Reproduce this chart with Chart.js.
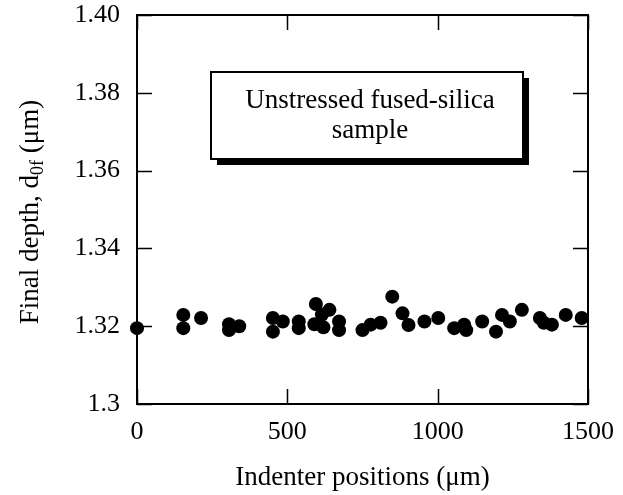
<!DOCTYPE html>
<html><head><meta charset="utf-8">
<script src="https://cdn.jsdelivr.net/npm/chart.js@4.4.0/dist/chart.umd.min.js"></script>
<style>html,body{margin:0;padding:0;background:#fff}canvas{display:block}</style>
</head><body>
<canvas id="c" width="623" height="495"></canvas>
<script>
const positions = [0, 154, 154, 213, 306, 306, 340, 452, 452, 485, 538, 538, 590, 595, 615, 620, 640, 672, 672, 750, 777, 810, 849, 883, 903, 956, 1002, 1055, 1088, 1095, 1148, 1194, 1214, 1240, 1280, 1340, 1353, 1380, 1426, 1479];
const depths = [1.3195, 1.3229, 1.3195, 1.3221, 1.3205, 1.3190, 1.3200, 1.3221, 1.3186, 1.3212, 1.3212, 1.3195, 1.3205, 1.3257, 1.3230, 1.3197, 1.3242, 1.3212, 1.3190, 1.3190, 1.3204, 1.3209, 1.3276, 1.3233, 1.3203, 1.3212, 1.3221, 1.3195, 1.3204, 1.3190, 1.3212, 1.3186, 1.3229, 1.3212, 1.3242, 1.3221, 1.3209, 1.3204, 1.3229, 1.3221];
const xTickValues = [0, 500, 1000, 1500];
const xTickLabels = ['0', '500', '1000', '1500'];
const yTickValues = [1.30, 1.32, 1.34, 1.36, 1.38, 1.40];
const yTickLabels = ['1.3', '1.32', '1.34', '1.36', '1.38', '1.40'];
const xAxisTitle = 'Indenter positions (\u03bcm)';
const yTitleMain = 'Final depth, d';
const yTitleSub = '0f';
const yTitleEnd = ' (\u03bcm)';
const boxLines = ['Unstressed fused-silica', 'sample'];

const FONT = '"Liberation Serif", "Times New Roman", serif';

const framePlugin = {
  id: 'frame',
  beforeDatasetsDraw(chart) {
    const {ctx, chartArea: a, scales: {x, y}} = chart;
    ctx.save();
    ctx.strokeStyle = '#000';
    ctx.lineWidth = 2;
    ctx.strokeRect(a.left, a.top, a.right - a.left, a.bottom - a.top);
    ctx.lineWidth = 1.5;
    const L = 15;
    ctx.beginPath();
    xTickValues.forEach(v => {
      const px = Math.round(x.getPixelForValue(v)) + 0.5;
      ctx.moveTo(px, a.bottom); ctx.lineTo(px, a.bottom - L);
      ctx.moveTo(px, a.top); ctx.lineTo(px, a.top + L);
    });
    yTickValues.forEach(v => {
      const py = Math.round(y.getPixelForValue(v)) + 0.5;
      ctx.moveTo(a.left, py); ctx.lineTo(a.left + L, py);
      ctx.moveTo(a.right, py); ctx.lineTo(a.right - L, py);
    });
    ctx.stroke();
    ctx.restore();
  },
  afterDraw(chart) {
    const {ctx, chartArea: a} = chart;
    ctx.save();
    ctx.fillStyle = '#000';
    // x title
    ctx.font = '27px ' + FONT;
    ctx.textAlign = 'center';
    ctx.textBaseline = 'middle';
    ctx.fillText(xAxisTitle, (a.left + a.right) / 2, 478);
    // y title with subscript
    ctx.save();
    ctx.translate(29, 212);
    ctx.rotate(-Math.PI / 2);
    ctx.textBaseline = 'alphabetic';
    ctx.textAlign = 'left';
    const big = '27px ' + FONT, small = '18px ' + FONT;
    ctx.font = big; const w1 = ctx.measureText(yTitleMain).width; const w3 = ctx.measureText(yTitleEnd).width;
    ctx.font = small; const w2 = ctx.measureText(yTitleSub).width;
    const total = w1 + w2 + w3;
    let sx = -total / 2;
    const base = 9;
    ctx.font = big; ctx.fillText(yTitleMain, sx, base); sx += w1;
    ctx.font = small; ctx.fillText(yTitleSub, sx, base + 5); sx += w2;
    ctx.font = big; ctx.fillText(yTitleEnd, sx, base);
    ctx.restore();
    // annotation box
    const bx = 211, by = 72, bw = 312, bh = 87;
    ctx.fillStyle = '#000';
    ctx.fillRect(bx + 6, by + 6, bw, bh);
    ctx.fillStyle = '#fff';
    ctx.fillRect(bx, by, bw, bh);
    ctx.strokeStyle = '#000';
    ctx.lineWidth = 2;
    ctx.strokeRect(bx, by, bw, bh);
    ctx.fillStyle = '#000';
    ctx.font = '27px ' + FONT;
    ctx.textAlign = 'center';
    ctx.textBaseline = 'middle';
    ctx.fillText(boxLines[0], bx + bw / 2 + 3, 101);
    ctx.fillText(boxLines[1], bx + bw / 2 + 3, 131);
    ctx.restore();
  }
};

new Chart(document.getElementById('c').getContext('2d'), {
  type: 'scatter',
  data: {
    datasets: [{
      data: positions.map((p, i) => ({x: p, y: depths[i]})),
      pointRadius: 7,
      pointHoverRadius: 7,
      backgroundColor: '#000',
      borderColor: '#000',
      borderWidth: 0,
      clip: false
    }]
  },
  options: {
    responsive: false,
    animation: false,
    devicePixelRatio: 1,
    layout: {padding: {left: 0, top: 15, right: 35, bottom: 0}},
    plugins: {legend: {display: false}, tooltip: {enabled: false}},
    scales: {
      x: {
        type: 'linear', min: 0, max: 1500,
        afterBuildTicks(s) { s.ticks = xTickValues.map(v => ({value: v})); },
        ticks: {font: {family: FONT, size: 26}, color: '#000', padding: 13, maxRotation: 0, autoSkip: false,
          callback: (v, i) => xTickLabels[i]},
        grid: {display: false, drawTicks: false, tickLength: 0}, border: {display: false},
        afterFit(s) { s.height = 91; s.paddingLeft = 0; s.paddingRight = 0; }
      },
      y: {
        type: 'linear', min: 1.3, max: 1.4,
        afterBuildTicks(s) { s.ticks = yTickValues.map(v => ({value: v})); },
        ticks: {font: {family: FONT, size: 26}, color: '#000', padding: 17, autoSkip: false,
          callback: (v, i) => yTickLabels[i]},
        grid: {display: false, drawTicks: false, tickLength: 0}, border: {display: false},
        afterFit(s) { s.width = 137; s.paddingTop = 0; s.paddingBottom = 0; }
      }
    }
  },
  plugins: [framePlugin]
});
</script>
</body></html>
